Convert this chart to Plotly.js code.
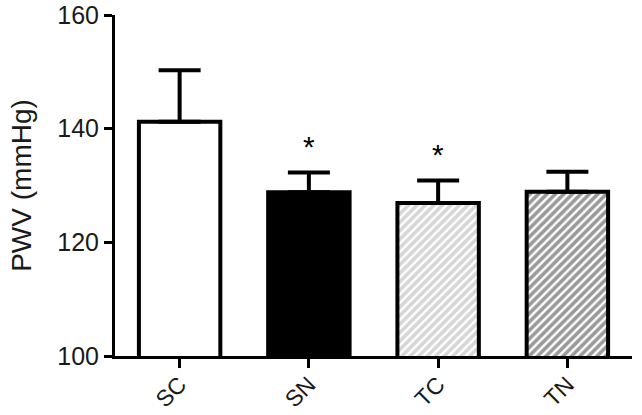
<!DOCTYPE html>
<html>
<head>
<meta charset="utf-8">
<script src="https://cdn.plot.ly/plotly-3.0.1.min.js"></script>
<style>
  html, body { margin: 0; padding: 0; background: #fff; }
  #chart { width: 642px; height: 415px; }
</style>
</head>
<body>
<div id="chart"></div>
<script>
// Data
const categories = ['SC', 'SN', 'TC', 'TN'];
const pwvMean = [141.2, 128.8, 126.9, 128.9];
const pwvSem = [9.1, 3.5, 4.0, 3.5];
const significance = ['', '*', '*', ''];
const yTicks = [100, 120, 140, 160];

const fillColors = ['#ffffff', '#000000', '#d6d6d6', '#9a9a9a'];
const patternShapes = ['', '', '/', '/'];

const font = 'Liberation Sans, Arial, Helvetica, sans-serif';

const trace = {
  type: 'bar',
  x: categories,
  y: pwvMean,
  width: 0.63,
  marker: {
    color: fillColors,
    line: { color: '#000', width: 4 },
    pattern: {
      shape: patternShapes,
      bgcolor: fillColors,
      fgcolor: '#000',
      fillmode: 'replace',
      size: 6,
      solidity: 0.6
    }
  },
  error_y: {
    type: 'data',
    symmetric: false,
    array: pwvSem,
    arrayminus: pwvSem.map(() => 0),
    color: '#000',
    thickness: 4,
    width: 21
  },
  hoverinfo: 'none'
};

const annotations = categories.map((c, i) => ({
  x: c,
  y: pwvMean[i] + pwvSem[i],
  text: significance[i],
  showarrow: false,
  yanchor: 'middle',
  yshift: 26,
  font: { family: font, size: 30, color: '#000' }
})).filter(a => a.text);

const layout = {
  width: 642,
  height: 415,
  margin: { l: 115, r: 10, t: 15, b: 59 },
  paper_bgcolor: '#fff',
  plot_bgcolor: '#fff',
  showlegend: false,
  font: { family: font, size: 25, color: '#1a1a1a' },
  xaxis: {
    type: 'category',
    range: [-0.5, 3.5],
    showline: true,
    linecolor: '#000',
    linewidth: 3,
    ticks: 'outside',
    ticklen: 9,
    tickwidth: 3,
    tickcolor: '#000',
    tickangle: -45,
    ticklabeloverflow: 'allow',
    ticklabelstandoff: -6,
    tickfont: { family: font, size: 23, color: '#1a1a1a' },
    showgrid: false,
    zeroline: false
  },
  yaxis: {
    range: [100, 160],
    tickvals: yTicks,
    ticktext: yTicks.map(String),
    showline: true,
    linecolor: '#000',
    linewidth: 3,
    ticks: 'outside',
    ticklen: 8,
    tickwidth: 3,
    tickcolor: '#000',
    ticklabeloverflow: 'allow',
    tickfont: { family: font, size: 25, color: '#1a1a1a' },
    showgrid: false,
    zeroline: false,
    title: { text: 'PWV (mmHg)', font: { family: font, size: 28, color: '#1a1a1a' }, standoff: 18 }
  },
  annotations: annotations
};

Plotly.newPlot('chart', [trace], layout, { staticPlot: true, displayModeBar: false });
</script>
</body>
</html>
